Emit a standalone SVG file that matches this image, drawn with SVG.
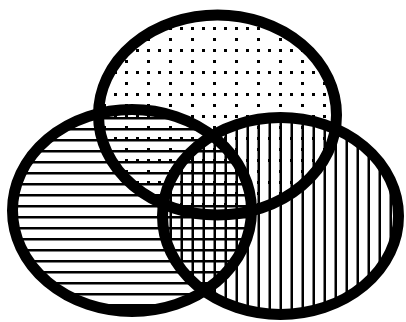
<svg xmlns="http://www.w3.org/2000/svg" width="406" height="322" viewBox="0 0 406 322">
  <defs>
    <pattern id="dots" patternUnits="userSpaceOnUse" width="22" height="22">
      <rect x="4" y="5" width="3" height="3" fill="#000"/>
      <rect x="15" y="5" width="3" height="3" fill="#000"/>
      <rect x="15" y="16" width="3" height="3" fill="#000"/>
    </pattern>
    <pattern id="hlines" patternUnits="userSpaceOnUse" width="11" height="11">
      <rect x="0" y="7" width="11" height="2.5" fill="#000"/>
    </pattern>
    <pattern id="vlines" patternUnits="userSpaceOnUse" width="11" height="11">
      <rect x="4.5" y="0" width="2.5" height="11" fill="#000"/>
    </pattern>
  </defs>
  <style>
    .ring { stroke: #000; stroke-width: 11; }
  </style>
  <rect width="406" height="322" fill="#fff"/>
  <g id="top-set">
    <ellipse class="ring" cx="217.5" cy="115" rx="119" ry="100" fill="url(#dots)"/>
  </g>
  <g id="left-set">
    <ellipse class="ring" cx="132" cy="210.5" rx="119.5" ry="101" fill="url(#hlines)"/>
  </g>
  <g id="right-set">
    <ellipse class="ring" cx="280.5" cy="216" rx="118" ry="98.5" fill="url(#vlines)"/>
  </g>
  <g id="connectors"/>
</svg>
